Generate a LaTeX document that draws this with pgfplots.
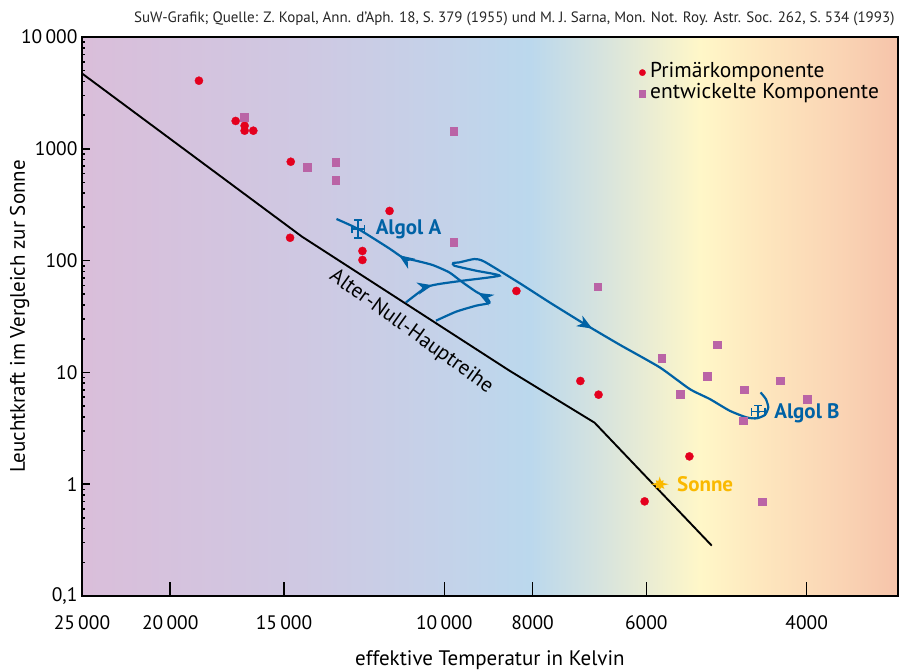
\documentclass[border=0pt]{standalone}
\usepackage{fontspec}
\setmainfont{PT Sans}
\usepackage{pgfplots}
\pgfplotsset{compat=1.18}
\usetikzlibrary{decorations.markings,arrows.meta}

\definecolor{redpt}{RGB}{228,0,30}
\definecolor{pinkpt}{RGB}{186,100,166}
\definecolor{algol}{RGB}{0,98,165}
\definecolor{sun}{RGB}{250,185,0}
\definecolor{bg0}{RGB}{218,190,218}
\definecolor{bg1}{RGB}{207,200,226}
\definecolor{bg2}{RGB}{196,210,233}
\definecolor{bg3}{RGB}{187,216,237}
\definecolor{bg4}{RGB}{214,227,222}
\definecolor{bg5}{RGB}{255,247,200}
\definecolor{bg6}{RGB}{254,231,190}
\definecolor{bg7}{RGB}{250,212,180}
\definecolor{bg8}{RGB}{246,196,170}

\pgfdeclarehorizontalshading{bgshade}{100bp}{color(0bp)=(bg0); color(25bp)=(bg0); color(38.35bp)=(bg1); color(47.25bp)=(bg2); color(52.45bp)=(bg3); color(56.75bp)=(bg4); color(62.85bp)=(bg5); color(66.55bp)=(bg6); color(71.45bp)=(bg7); color(75bp)=(bg8); color(100bp)=(bg8)}

\pgfdeclareplotmark{sunstar}{%
  \pgfpathmoveto{\pgfpointpolar{0}{9pt}}%
  \pgfpathlineto{\pgfpointpolar{22.5}{3.5pt}}%
  \pgfpathlineto{\pgfpointpolar{45}{5.5pt}}%
  \pgfpathlineto{\pgfpointpolar{67.5}{3.5pt}}%
  \pgfpathlineto{\pgfpointpolar{90}{7.5pt}}%
  \pgfpathlineto{\pgfpointpolar{112.5}{3.5pt}}%
  \pgfpathlineto{\pgfpointpolar{135}{5.5pt}}%
  \pgfpathlineto{\pgfpointpolar{157.5}{3.5pt}}%
  \pgfpathlineto{\pgfpointpolar{180}{9pt}}%
  \pgfpathlineto{\pgfpointpolar{202.5}{3.5pt}}%
  \pgfpathlineto{\pgfpointpolar{225}{6.5pt}}%
  \pgfpathlineto{\pgfpointpolar{247.5}{3.5pt}}%
  \pgfpathlineto{\pgfpointpolar{270}{6pt}}%
  \pgfpathlineto{\pgfpointpolar{292.5}{3.5pt}}%
  \pgfpathlineto{\pgfpointpolar{315}{6.5pt}}%
  \pgfpathlineto{\pgfpointpolar{337.5}{3.5pt}}%
  \pgfpathclose\pgfusepathqfill}

\tikzset{trackarrow/.style={decoration={markings,#1},postaction={decorate}}}
\newcommand{\arr}{\arrow{Stealth[length=15pt,width=12pt,inset=4.5pt]}}

\begin{document}
\begin{tikzpicture}
\useasboundingbox (-82pt,-75pt) rectangle (817pt,596pt);
\begin{axis}[
  at={(0pt,0pt)}, anchor=south west,
  scale only axis, width=816pt, height=559pt,
  xmode=log, ymode=log, x dir=reverse,
  xmin=3176, xmax=25000, ymin=0.1, ymax=10000,
  axis on top,
  axis line style={line width=1.6pt},
  xtick={25000,20000,15000,10000,8000,6000,4000},
  xticklabels={25\,000,20\,000,15\,000,10\,000,8000,6000,4000},
  ytick={0.1,1,10,100,1000,10000},
  yticklabels={0{,}1,1,10,100,1000,10\,000},
  minor xtick={}, minor ytick={},
  tick align=inside, xtick pos=bottom, ytick pos=left,
  major tick length=8pt,
  xtick style={/pgfplots/major tick length=14pt},
  tick style={line width=1.6pt, black},
  xticklabel style={font=\fontsize{19.5}{19.5}\selectfont, yshift=-16pt},
  yticklabel style={font=\fontsize{19.5}{19.5}\selectfont, xshift=-1pt},
  xlabel={effektive Temperatur in Kelvin},
  ylabel={Leuchtkraft im Vergleich zur Sonne},
  every axis x label/.style={at={(axis description cs:0.5,-0.1252)}, anchor=base, font=\fontsize{21}{21}\selectfont},
  every axis y label/.style={at={(axis description cs:-0.0699,0.5)}, rotate=90, anchor=base, font=\fontsize{21}{21}\selectfont},
  legend entries={Primärkomponente, entwickelte Komponente},
  legend cell align=left,
  legend image code/.code={\draw[#1] plot coordinates {(0pt,0pt)};},
  legend style={at={(rel axis cs:0.679,0.959)}, anchor=north west, draw=none, fill=none,
    font=\fontsize{21.5}{21.5}\selectfont, row sep=0pt,
    nodes={inner sep=1pt, text height=14.5pt, text depth=4.5pt},
    /tikz/every odd column/.append style={column sep=3.5pt}},
  legend image post style={mark size=3.2pt},
]
\shade[shading=bgshade] (rel axis cs:0,0) rectangle (rel axis cs:1,1);

\addplot[only marks, mark=*, mark size=4.1pt, mark options={draw=redpt, fill=redpt, line width=0.3pt}] coordinates {
(18600,4064) (16950,1774) (16570,1609) (16570,1452) (16210,1452)
(14745,766) (14770,160) (11485,278) (12300,121.9) (12300,101.3)
(8334,53.5) (7090,8.38) (6771,6.32) (5381,1.773) (6026,0.702)
};
\addplot[only marks, mark=square*, mark size=3.7pt, mark options={draw=pinkpt, fill=pinkpt, line width=0.3pt}] coordinates {
(16585,1925) (14140,687) (13170,762) (13170,526) (9768,1443) (9768,146.7)
(6783,58.4) (5016,17.7) (5768,13.45) (5145,9.29) (5510,6.41) (4276,8.43)
(4686,7.0) (3994,5.78) (4697,3.72) (4477,0.697)
};

% Alter-Null-Hauptreihe
\addplot[black, line width=1.9pt] coordinates {
(25000,4725) (14330,163.6) (8481,10.36) (6839,3.55) (5085,0.282)
};

% Algol A track
\addplot[algol, line width=2.2pt, smooth, tension=0.35,
  trackarrow={mark=at position 0.31 with {\arr}, mark=at position 0.69 with {\arr}}] coordinates {
(10213,29.0) (9708,34.9) (9229,39.5) (8923,41.8) (8998,46.9) (9229,52.7)
(9547,63.8) (9874,78.4) (10301,91.3) (10743,99.8) (11113,106.8) (11495,128.6)
(12433,191.7) (13135,235.6)
};

% Algol B track
\addplot[algol, line width=2.2pt, smooth, tension=0.35,
  trackarrow={mark=at position 0.06 with {\arr}, mark=at position 0.58 with {\arr}}] coordinates {
(11018,42.3) (10474,57.6) (10127,61.8) (9547,66.1) (8700,73.3) (9229,81.2)
(9750,90.0) (9775,95.2) (9627,96.4) (9268,103.3) (9036,97.8) (8270,63.0)
(7664,42.3) (7015,27.1) (6420,17.7) (5800,11.09) (5377,7.10) (5111,5.78)
(4860,4.54) (4658,3.96) (4541,3.88) (4446,4.16) (4408,4.86) (4435,5.78) (4495,6.62)
};

% error bars
\addplot[algol, only marks, mark=*, mark size=1.6pt, mark options={draw=algol, fill=algol},
  error bars/.cd, x dir=both, x explicit, y dir=both, y explicit,
  error bar style={line width=1.4pt, algol},
  error mark options={rotate=90, mark size=4pt, line width=1.4pt, algol}] coordinates {
(12433,191.7) += (190,39) -= (190,32)
(4522,4.45) += (76,0.59) -= (76,0.52)
};

% Sun
\addplot[only marks, mark=sunstar, color=sun, mark options={fill=sun}] coordinates {(5800,1)};

\node[anchor=west, text=algol, font=\fontsize{21}{21}\selectfont\bfseries] at (axis cs:12000,192) {Algol A};
\node[anchor=west, text=algol, font=\fontsize{21}{21}\selectfont\bfseries] at (axis cs:4380,4.27) {Algol B};
\node[anchor=west, text=sun, font=\fontsize{21}{21}\selectfont\bfseries] at (axis cs:5600,1) {Sonne};
\node[rotate=-35.8, font=\fontsize{21}{21}\selectfont] at (axis cs:10871,23.1) {Alter-Null-Hauptreihe};
\end{axis}
\node[anchor=base east, font=\fontsize{15}{15}\selectfont, text=black!85] at (816pt,573pt)
 {SuW-Grafik; Quelle: Z. Kopal, Ann. d’Aph. 18, S. 379 (1955) und M. J. Sarna, Mon. Not. Roy. Astr. Soc. 262, S. 534 (1993)};
\end{tikzpicture}
\end{document}
